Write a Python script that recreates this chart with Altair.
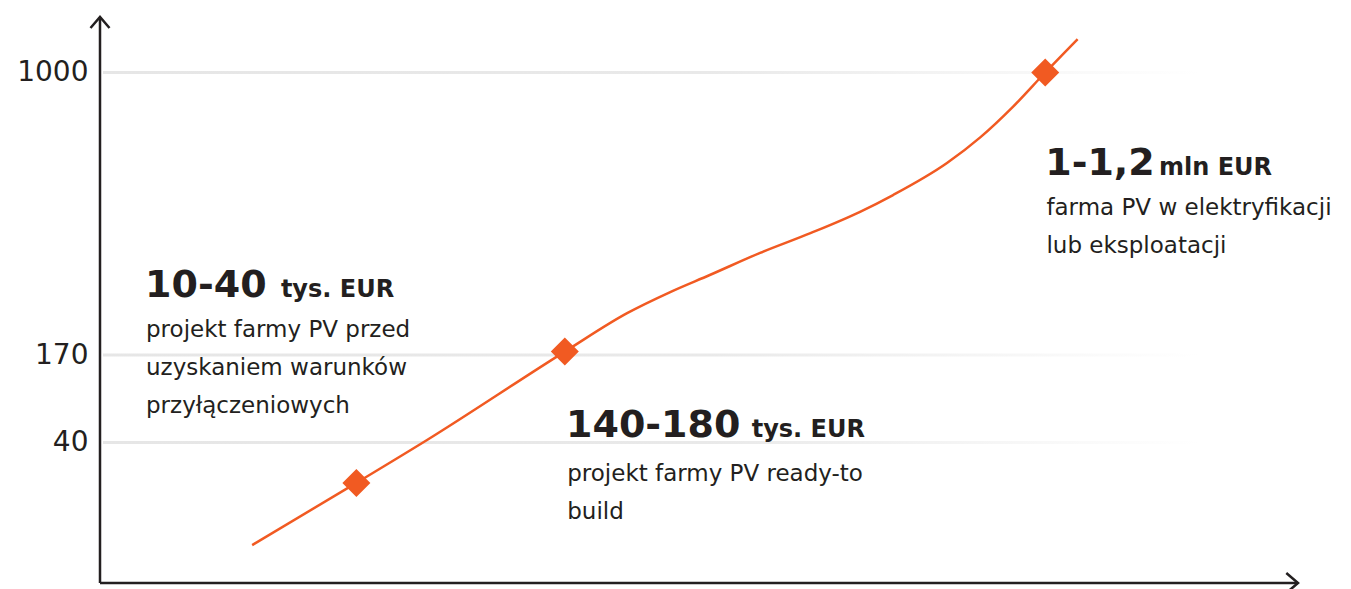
import altair as alt
import pandas as pd

# ---- data ----
curve_x = [12.7, 21.4, 27.3, 38.8, 44.0, 47.6, 50.9, 55.1, 59.3, 63.4, 66.2, 70.7, 73.5, 76.2, 78.9, 81.6]
curve_y = [10.8, 28.5, 43.7, 180, 293, 355, 405, 470, 528, 590, 640, 734, 810, 899, 1000, 1098]

marker_x = [21.4, 38.8, 78.9]
marker_y = [28.5, 180, 1000]

y_ticks = [40, 170, 1000]

title_text = ["10-40", "140-180", "1-1,2"]
title_x = [3.76, 38.9, 78.9]
title_y = [340.4, 48.2, 698.8]

unit_text = ["tys. EUR", "tys. EUR", "mln EUR"]
unit_x = [15.1, 54.4, 88.4]

body_text = [
    "projekt farmy PV przed\nuzyskaniem warunków\nprzyłączeniowych",
    "projekt farmy PV ready-to\nbuild",
    "farma PV w elektryfikacji\nlub eksploatacji",
]
body_x = [3.84, 39.0, 79.0]
body_y = [222.9, 29.0, 581.3]

# ---- styling ----
ORANGE = "#f15a22"
INK = "#231f20"
FONT = "DejaVu Sans"

y_scale = alt.Scale(domain=[0, 40, 170, 1000, 1163], range=[566, 425.5, 338, 55.5, 0])
x_scale = alt.Scale(domain=[0, 100])
y_axis = alt.Axis(
    values=y_ticks,
    format="d",
    domain=False,
    ticks=False,
    grid=False,
    title=None,
    labelFont=FONT,
    labelFontSize=28,
    labelColor=INK,
    labelPadding=12,
)
X = lambda f: alt.X(f, scale=x_scale, axis=None)
Y = lambda f: alt.Y(f, scale=y_scale, axis=y_axis)

curve_df = pd.DataFrame({"x": curve_x, "y": curve_y})
marker_df = pd.DataFrame({"x": marker_x, "y": marker_y})
grid_df = pd.DataFrame({"y": y_ticks, "x0": [0.25] * 3, "x1": [91.8] * 3})
title_df = pd.DataFrame({"x": title_x, "y": title_y, "t": title_text})
unit_df = pd.DataFrame({"x": unit_x, "y": title_y, "t": unit_text})
body_df = pd.DataFrame({"x": body_x, "y": body_y, "t": body_text})

grad = alt.LinearGradient(
    gradient="linear",
    stops=[
        alt.GradientStop(color="#e6e6e6", offset=0),
        alt.GradientStop(color="#e9e9e9", offset=0.55),
        alt.GradientStop(color="#ffffff", offset=1),
    ],
    x1=0, x2=1, y1=0, y2=0,
)

grid = alt.Chart(grid_df).mark_rect(yOffset=-1.5, y2Offset=1.5, fill=grad).encode(
    x=X("x0:Q"), x2="x1:Q", y=Y("y:Q"), y2="y:Q",
)

yaxis_line = alt.Chart(pd.DataFrame({"x": [0], "y": [0], "y2": [1163]})).mark_rule(
    color=INK, strokeWidth=2.5
).encode(x=X("x:Q"), y=Y("y:Q"), y2="y2:Q")

xaxis_line = alt.Chart(pd.DataFrame({"x": [0], "x2": [100], "y": [0]})).mark_rule(
    color=INK, strokeWidth=2.5
).encode(x=X("x:Q"), x2="x2:Q", y=Y("y:Q"))

up_arrow = alt.Chart(pd.DataFrame({"x": [0], "y": [1163]})).mark_point(
    shape="M-1,1.16L0,0L1,1.16", size=361, filled=False, stroke=INK, strokeWidth=2.5, opacity=1
).encode(x=X("x:Q"), y=Y("y:Q"))

right_arrow = alt.Chart(pd.DataFrame({"x": [100], "y": [0]})).mark_point(
    shape="M-1.17,-1L0,0L-1.17,1", size=400, filled=False, stroke=INK, strokeWidth=2.5, opacity=1
).encode(x=X("x:Q"), y=Y("y:Q"))

line = alt.Chart(curve_df).mark_line(color=ORANGE, strokeWidth=2.5, interpolate="monotone").encode(
    x=X("x:Q"), y=Y("y:Q"),
)

markers = alt.Chart(marker_df).mark_point(
    shape="diamond", size=784, filled=True, color=ORANGE, opacity=1
).encode(x=X("x:Q"), y=Y("y:Q"))

titles = alt.Chart(title_df).mark_text(
    font=FONT, fontSize=38, fontWeight="bold", color=INK, align="left", baseline="alphabetic"
).encode(x=X("x:Q"), y=Y("y:Q"), text="t:N")

units = alt.Chart(unit_df).mark_text(
    font=FONT, fontSize=24, fontWeight="bold", color=INK, align="left", baseline="alphabetic"
).encode(x=X("x:Q"), y=Y("y:Q"), text="t:N")

bodies = alt.Chart(body_df).mark_text(
    font=FONT, fontSize=23, color=INK, align="left", baseline="alphabetic",
    lineBreak="\n", lineHeight=38,
).encode(x=X("x:Q"), y=Y("y:Q"), text="t:N")

chart = alt.layer(
    grid, yaxis_line, xaxis_line, up_arrow, right_arrow, line, markers, titles, units, bodies
).properties(
    width=1198,
    height=566,
    padding={"left": 92, "top": 9, "right": 45, "bottom": 12},
    autosize=alt.AutoSizeParams(type="none"),
    background="white",
).configure_view(stroke=None)

chart.save("out.html", embed_options={"renderer": "svg", "actions": False})
